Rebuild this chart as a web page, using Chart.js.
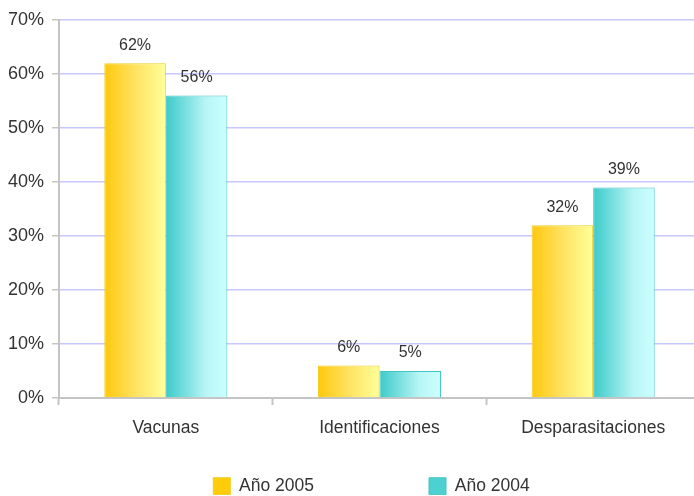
<!DOCTYPE html>
<html>
<head>
<meta charset="utf-8">
<script src="https://cdn.jsdelivr.net/npm/chart.js@4/dist/chart.umd.min.js"></script>
<style>
html,body{margin:0;padding:0;background:#fff;overflow:hidden;}
#wrap{width:700px;height:496px;}
</style>
</head>
<body>
<div id="wrap"><canvas id="c" width="700" height="496"></canvas></div>
<script>
const categories = ['Vacunas', 'Identificaciones', 'Desparasitaciones'];
const seriesNames = ['Año 2005', 'Año 2004'];
const values2005 = [62, 6, 32];
const values2004 = [56, 5, 39];
const yTicks = [0, 10, 20, 30, 40, 50, 60, 70];

const FONT = '"Liberation Sans", Arial, sans-serif';
const TEXT = '#333333';
const LEG_PAD = 115;
const LEG_SHIFT = 21.5;

const gradStops = [
  [[0, '#FFC80C'], [0.5, '#FFE261'], [1, '#FFFF9A']],
  [[0, '#3CCACA'], [0.65, '#B8F5F5'], [1, '#CCFFFF']]
];

const gradientPlugin = {
  id: 'barGradient',
  beforeDatasetsDraw(chart) {
    const ctx = chart.ctx;
    chart.data.datasets.forEach((ds, di) => {
      const meta = chart.getDatasetMeta(di);
      meta.data.forEach(el => {
        const p = el.getProps(['x', 'width'], true);
        const g = ctx.createLinearGradient(p.x - p.width / 2, 0, p.x + p.width / 2, 0);
        gradStops[di].forEach(s => g.addColorStop(s[0], s[1]));
        el.options = Object.assign({}, el.options, { backgroundColor: g });
      });
    });
  }
};

const labelPlugin = {
  id: 'valueLabels',
  afterDatasetsDraw(chart) {
    const ctx = chart.ctx;
    ctx.save();
    ctx.font = '16px ' + FONT;
    ctx.fillStyle = TEXT;
    ctx.textAlign = 'center';
    ctx.textBaseline = 'middle';
    chart.data.datasets.forEach((ds, di) => {
      chart.getDatasetMeta(di).data.forEach((el, i) => {
        const p = el.getProps(['x', 'y'], true);
        ctx.fillText(ds.data[i] + '%', p.x, p.y - 18);
      });
    });
    ctx.restore();
  }
};

const legendPlacePlugin = {
  id: 'legendPlace',
  beforeLayout(chart) {
    const lg = chart.legend;
    if (lg && !lg._wrapped) {
      const orig = lg.fit;
      lg.fit = function () {
        orig.call(this);
        this.height = 57;
      };
      lg._wrapped = true;
    }
  },
  afterLayout(chart) {
    const lg = chart.legend;
    if (lg) {
      lg.top = lg.bottom - 17.5 - LEG_PAD;
      lg.left += LEG_SHIFT;
      lg.right += LEG_SHIFT;
    }
  }
};

new Chart(document.getElementById('c'), {
  type: 'bar',
  data: {
    labels: categories,
    datasets: [
      {
        label: seriesNames[0],
        data: values2005,
        backgroundColor: '#FFCC0A',
        borderColor: '#F2CC20',
        borderWidth: 1,
        borderSkipped: 'bottom'
      },
      {
        label: seriesNames[1],
        data: values2004,
        backgroundColor: '#4DD0D0',
        borderColor: '#45C4C4',
        borderWidth: 1,
        borderSkipped: 'bottom'
      }
    ]
  },
  options: {
    responsive: false,
    animation: false,
    devicePixelRatio: 1,
    layout: { padding: { left: 0, right: 0, top: 20, bottom: 1 } },
    categoryPercentage: 0.576,
    barPercentage: 1,
    plugins: {
      tooltip: { enabled: false },
      legend: {
        position: 'bottom',
        labels: {
          boxWidth: 17,
          boxHeight: 17,
          padding: LEG_PAD,
          color: TEXT,
          font: { family: FONT, size: 17.5 }
        }
      }
    },
    scales: {
      x: {
        afterFit(s) { s.height = 40; },
        grid: {
          drawOnChartArea: false,
          drawTicks: true,
          tickLength: 7,
          tickColor: '#C4C4C4',
          tickWidth: 2
        },
        border: { color: '#C4C4C4', width: 2 },
        ticks: {
          color: TEXT,
          padding: 13,
          font: { family: FONT, size: 17.5 }
        }
      },
      y: {
        min: 0,
        max: 70,
        afterFit(s) { s.width = 59; },
        afterBuildTicks(s) { s.ticks = yTicks.map(v => ({ value: v })); },
        grid: {
          color: '#C8C8FF',
          lineWidth: 1.5,
          tickLength: 7,
          tickColor: '#C4C4C4',
          tickWidth: 1.5
        },
        border: { color: '#C4C4C4', width: 2 },
        ticks: {
          color: TEXT,
          padding: 8,
          font: { family: FONT, size: 18 },
          callback: v => v + '%'
        }
      }
    }
  },
  plugins: [gradientPlugin, labelPlugin, legendPlacePlugin]
});
</script>
</body>
</html>
